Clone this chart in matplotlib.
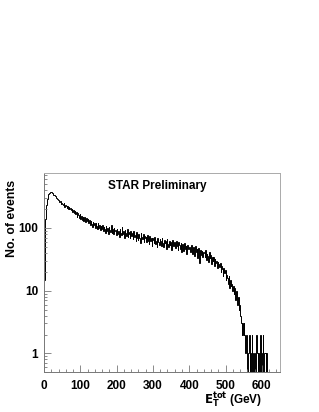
import matplotlib
matplotlib.use("Agg")
import matplotlib.pyplot as plt
import numpy as np
from matplotlib.ticker import MultipleLocator, LogLocator, NullFormatter, FixedLocator

plt.rcParams['font.family'] = ['Liberation Sans', 'DejaVu Sans']
plt.rcParams['font.weight'] = 'bold'

# histogram of total transverse energy, 2 GeV bins from 0 to 620 GeV
bin_width = 2
counts = [
    15, 45, 140, 230, 290, 320, 345, 360, 372, 380, 374, 366, 352, 340, 330, 318, 306, 298, 285, 276,
    280, 258, 266, 241, 252, 237, 229, 246, 218, 233, 226, 209, 221, 200, 214, 197, 207, 190, 199, 181,
    192, 172, 185, 164, 178, 150, 171, 158, 146, 167, 141, 157, 136, 151, 130, 148, 139, 124, 142, 127,
    138, 119, 134, 112, 129, 117, 105, 126, 110, 122, 99, 118, 108, 96, 121, 101, 113, 92, 109, 98,
    112, 90, 104, 95, 84, 108, 89, 99, 81, 103, 93, 86, 110, 83, 97, 79, 101, 88, 94, 78,
    98, 80, 91, 72, 95, 84, 76, 102, 79, 88, 70, 93, 82, 74, 96, 71, 87, 80, 68, 90,
    75, 84, 66, 89, 72, 78, 61, 86, 70, 64, 81, 69, 58, 83, 73, 66, 79, 60, 74, 68,
    71, 59, 76, 63, 55, 74, 61, 68, 52, 70, 64, 57, 73, 56, 62, 50, 69, 60, 54, 66,
    63, 52, 68, 57, 49, 65, 58, 61, 47, 66, 55, 50, 63, 53, 59, 45, 64, 54, 51, 60,
    57, 48, 62, 51, 44, 59, 53, 46, 58, 41, 55, 50, 43, 57, 47, 52, 39, 54, 46, 49,
    50, 42, 47, 53, 38, 49, 44, 36, 52, 41, 46, 33, 48, 40, 28, 45, 37, 43, 34, 42,
    40, 35, 44, 31, 38, 36, 29, 41, 33, 37, 27, 35, 30, 34, 25, 32, 28, 30, 23, 29,
    27, 24, 28, 20, 25, 22, 17, 23, 19, 21, 15, 18, 16, 13, 17, 11, 15, 12, 13, 10,
    12, 9, 11, 7, 10, 8, 6, 8, 5, 6, 4, 3, 2, 3, 2, 3, 2, 1, 2, 1,
    0, 1, 2, 0, 1, 0, 2, 1, 0, 1, 1, 0, 2, 1, 0, 1, 0, 1, 2, 0,
    1, 2, 0, 1, 1, 0, 1, 0, 0, 0,
]
x_ticks = [0, 100, 200, 300, 400, 500, 600]
y_ticks = [1, 10, 100]
y_tick_labels = ["1", "10", "100"]

edges = np.arange(len(counts) + 1) * bin_width

fig = plt.figure(figsize=(3.19, 4.12), dpi=100)
ax = fig.add_axes([0.138, 0.0964, 0.740, 0.4844])

ax.stairs(counts, edges, baseline=None, color="black", linewidth=0.7)

ax.set_yscale("log")
ax.set_xlim(0, 650)
ax.set_ylim(0.5, 760)

ax.xaxis.set_major_locator(FixedLocator(x_ticks))
ax.xaxis.set_minor_locator(MultipleLocator(20))
ax.yaxis.set_major_locator(FixedLocator(y_ticks))
ax.set_yticklabels(y_tick_labels)
ax.yaxis.set_minor_locator(LogLocator(base=10, subs=np.arange(2, 10)))
ax.yaxis.set_minor_formatter(NullFormatter())

ax.tick_params(axis="both", which="major", direction="in", length=5, width=0.6,
               colors="#777777", labelcolor="black", labelsize=8.5)
ax.tick_params(axis="both", which="minor", direction="in", length=2.5, width=0.6,
               colors="#777777")
ax.tick_params(axis="x", which="major", pad=5.5)
ax.tick_params(axis="y", which="major", pad=4.3)
ax.tick_params(top=False, right=False, which="both")

for s in ax.spines.values():
    s.set_color("#aaaaaa")
    s.set_linewidth(0.7)
ax.spines["left"].set_color("#777777")
ax.spines["bottom"].set_color("#777777")

ax.text(0.479, 0.933, "STAR Preliminary", transform=ax.transAxes,
        ha="center", va="center", fontsize=8.5, fontweight="bold")

fig.text(12 / 319, 1 - 218.5 / 412, "No. of events", rotation=90,
         ha="center", va="center", fontsize=8.8, fontweight="bold")
fig.text(262 / 319, 1 - 400 / 412, r"$\mathbf{E}_\mathbf{T}^\mathbf{tot}$ (GeV)",
         ha="right", va="center", fontsize=8.5, fontweight="bold")

fig.savefig("out.png", dpi=100)
